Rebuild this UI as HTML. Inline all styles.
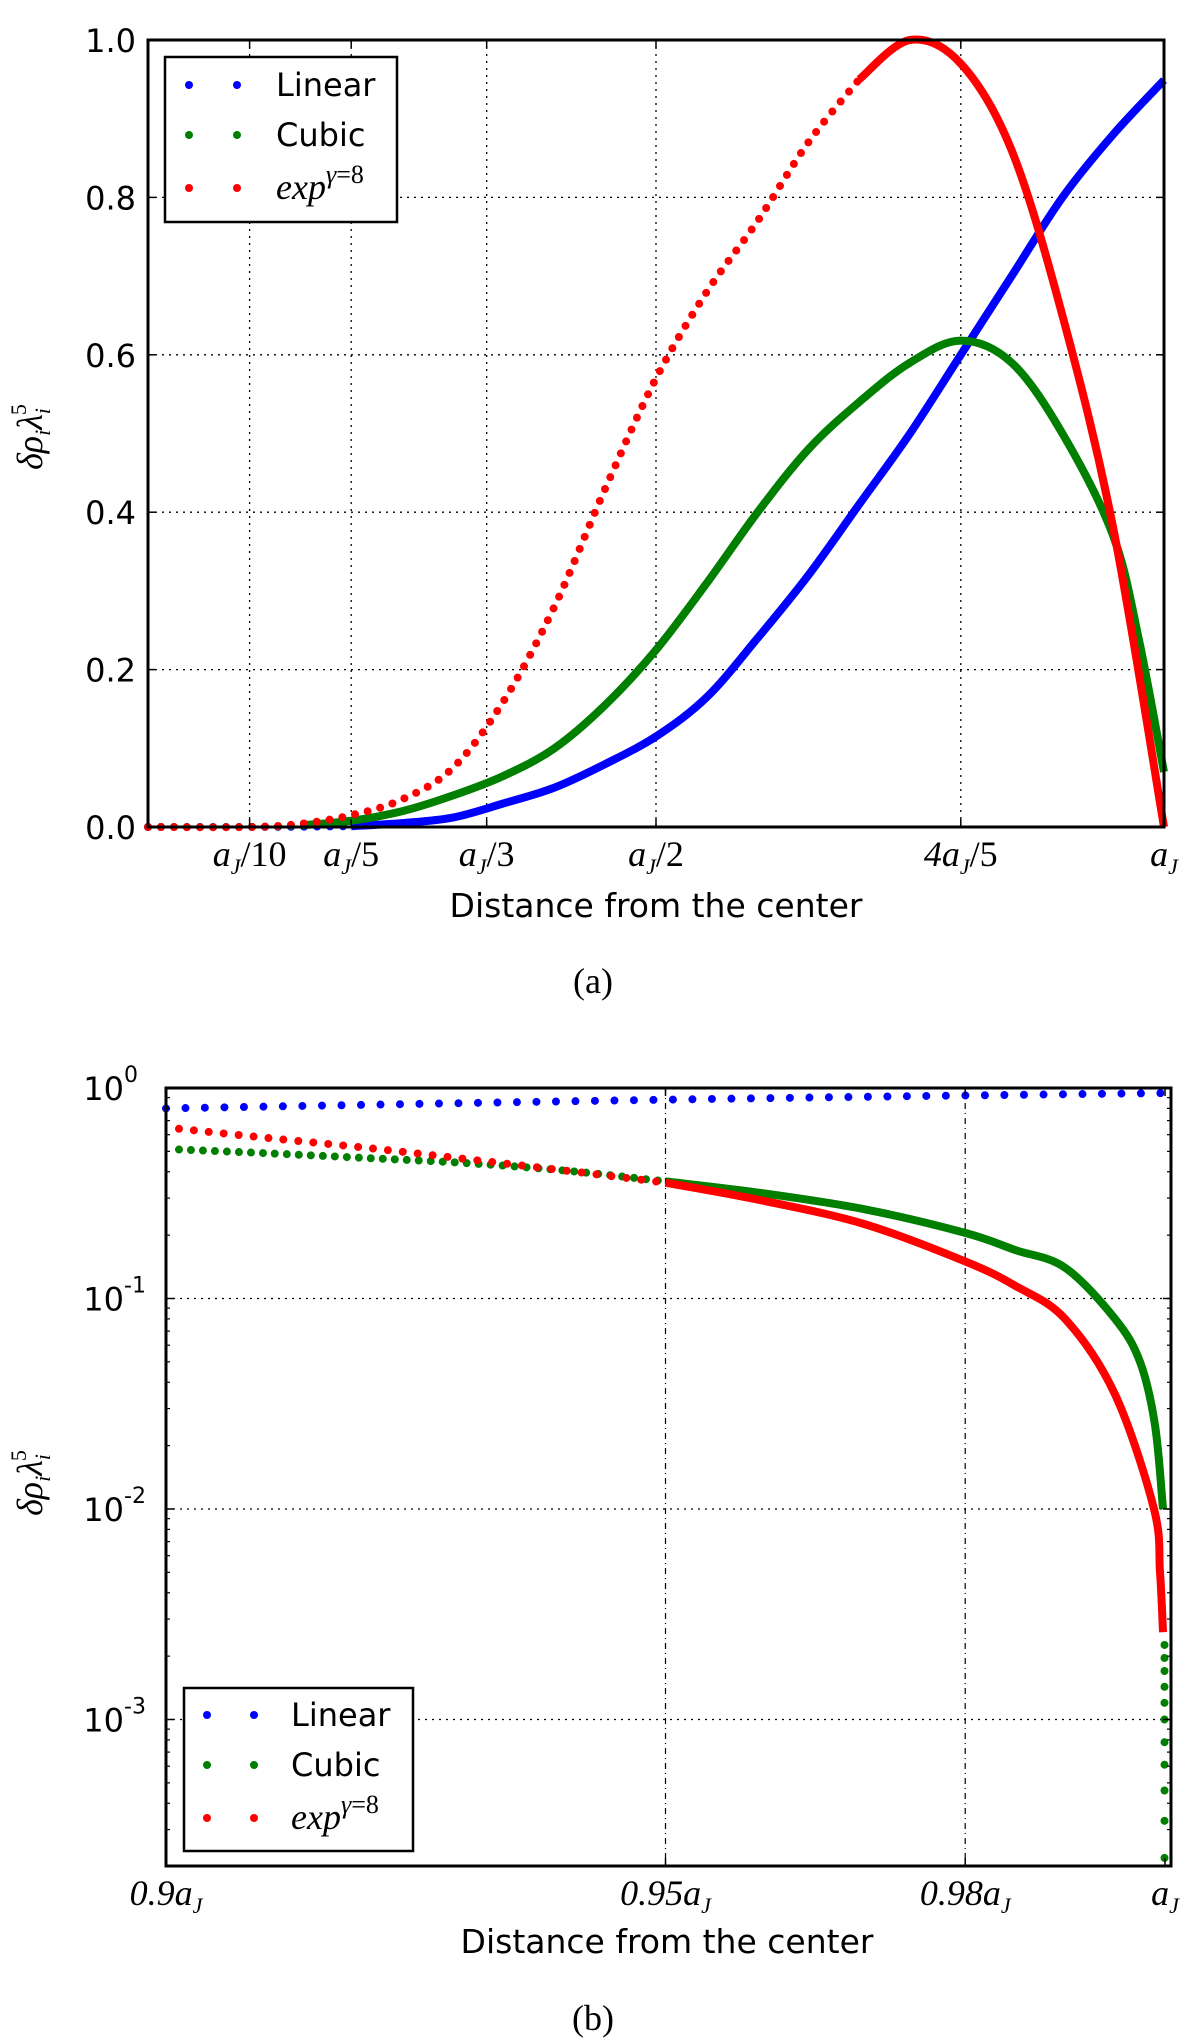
<!DOCTYPE html>
<html><head><meta charset="utf-8"><style>
html,body{margin:0;padding:0;background:#fff;}
svg{display:block;}
.tk{font-family:"DejaVu Sans","Liberation Sans",sans-serif;font-size:32px;fill:#000;}
.mt{font-family:"Liberation Serif",serif;font-style:italic;fill:#000;}
.ttl{font-family:"DejaVu Sans","Liberation Sans",sans-serif;font-size:33px;fill:#000;}
.cap{font-family:"Liberation Serif",serif;font-size:36px;fill:#000;}
</style></head><body>
<svg id="fig" width="1200" height="2040" viewBox="0 0 1200 2040" xmlns="http://www.w3.org/2000/svg">
<g id="top"></g>
<g id="bot"></g>
</svg>
<script>
// ---- Chart (a) data ----
const topLinearX = [0,0.1,0.2,0.25,0.3,0.35,0.4,0.45,0.5,0.55,0.6,0.65,0.7,0.75,0.8,0.85,0.9,0.95,1.0];
const topLinearY = [0,0,0.001,0.005,0.012,0.03,0.05,0.08,0.115,0.165,0.24,0.32,0.41,0.5,0.6,0.7,0.8,0.88,0.949];
const topCubicX = [0,0.1,0.15,0.2,0.25,0.3,0.35,0.4,0.45,0.5,0.55,0.6,0.65,0.7,0.75,0.8,0.85,0.9,0.95,0.975,1.0];
const topCubicY = [0,0,0.002,0.008,0.02,0.04,0.065,0.1,0.155,0.225,0.31,0.4,0.48,0.54,0.59,0.618,0.59,0.5,0.37,0.24,0.07];
const topExpX = [0,0.1,0.15,0.2,0.25,0.3,0.35,0.4,0.45,0.5,0.55,0.6,0.65,0.7,0.75,0.8,0.85,0.9,0.95,1.0];
const topExpY = [0,0,0.004,0.015,0.035,0.075,0.16,0.28,0.43,0.57,0.68,0.77,0.87,0.95,1.0,0.97,0.86,0.65,0.38,0.0];
const topXTicks = [0.1,0.2,1/3,0.5,0.8,1.0];
const topXTickLabels = [["a","/10"],["a","/5"],["a","/3"],["a","/2"],["4a","/5"],["a",""]];
const topYTicks = [0,0.2,0.4,0.6,0.8,1.0];
const topYTickLabels = ["0.0","0.2","0.4","0.6","0.8","1.0"];

// ---- Chart (b) data ----
const botLinearX = [0.9,0.925,0.95,0.975,1.0];
const botLinearY = [0.80,0.84,0.88,0.915,0.946];
const botCubicX = [0.9013,0.91,0.92,0.93,0.94,0.95,0.96,0.97,0.98,0.985,0.99,0.995,0.9975,0.999,0.9998];
const botCubicY = [0.51,0.49,0.465,0.44,0.405,0.36,0.315,0.265,0.205,0.17,0.14,0.08,0.05,0.025,0.01];
const botCubicTailY = [0.00226,0.00196,0.0017,0.00143,0.0012,0.001,0.00078,0.00061,0.00046,0.00033,0.00022];
const botExpX = [0.9013,0.91,0.92,0.93,0.94,0.95,0.96,0.97,0.98,0.985,0.99,0.995,0.9989,0.9995,0.9998];
const botExpY = [0.64,0.58,0.52,0.46,0.405,0.355,0.29,0.225,0.15,0.115,0.08,0.035,0.01,0.005,0.0026];
const botXTicks = [0.9,0.95,0.98,1.0];
const botXTickLabels = [["0.9a"],["0.95a"],["0.98a"],["a"]];
const botYTickExps = [0,-1,-2,-3];

const NS="http://www.w3.org/2000/svg";
function mk(parent,tag,attrs){const e=document.createElementNS(NS,tag);for(const k in attrs)e.setAttribute(k,attrs[k]);parent.appendChild(e);return e;}
const BLUE="#0000ff",GREEN="#007f00",RED="#ff0000";

function pathD(xs,ys,sx,sy,from,to){
  const P=[];for(let i=from;i<=to;i++)P.push([sx(xs[i]),sy(ys[i])]);
  let d="M"+P[0][0].toFixed(2)+","+P[0][1].toFixed(2);
  for(let i=0;i<P.length-1;i++){
    const p0=P[Math.max(0,i-1)],p1=P[i],p2=P[i+1],p3=P[Math.min(P.length-1,i+2)];
    const c1=[p1[0]+(p2[0]-p0[0])/6,p1[1]+(p2[1]-p0[1])/6];
    const c2=[p2[0]-(p3[0]-p1[0])/6,p2[1]-(p3[1]-p1[1])/6];
    d+="C"+c1[0].toFixed(2)+","+c1[1].toFixed(2)+" "+c2[0].toFixed(2)+","+c2[1].toFixed(2)+" "+p2[0].toFixed(2)+","+p2[1].toFixed(2);
  }
  return d;
}
function ylabel(g,x,y){
  const yt=mk(g,'text',{x:0,y:0,'text-anchor':'middle','class':'mt','font-size':36,transform:'translate('+x+','+y+') rotate(-90)'});
  
  yt.innerHTML='δρ<tspan dy="8" font-size="22">i</tspan><tspan dy="-8">λ</tspan><tspan dy="8" font-size="22">i</tspan><tspan dx="-7" dy="-24" font-size="22" font-style="normal">5</tspan>';
}

// ===== Chart A =====
(function(){
const g=document.getElementById('top');
const L=148,R=1164,T=40,B=827;
const sx=v=>L+(v-0)/(1-0)*(R-L);
const sy=v=>B-(v-0)/(1-0)*(B-T);
topXTicks.forEach((t,i)=>{
  if(t<1){const ln=mk(g,'line',{x1:sx(t),x2:sx(t),y1:T,y2:B,stroke:'#000','stroke-width':1.3,'stroke-dasharray':'2,5'});
  }
});
topYTicks.forEach(t=>{
  if(t>0&&t<1){const ln=mk(g,'line',{x1:L,x2:R,y1:sy(t),y2:sy(t),stroke:'#000','stroke-width':1.3,'stroke-dasharray':'2,5'});
  }
});
function series(xs,ys,col,split,name){
  const n=xs.length-1;let k=0;while(k<n&&xs[k]<split)k++;
  if(k>0){const p=mk(g,'path',{d:pathD(xs,ys,sx,sy,0,k),fill:'none',stroke:col,'stroke-width':8,'stroke-linecap':'round','stroke-dasharray':'0,13'});
    }
  const p2=mk(g,'path',{d:pathD(xs,ys,sx,sy,k,n),fill:'none',stroke:col,'stroke-width':8,'stroke-linejoin':'round'});
  
}
series(topLinearX,topLinearY,BLUE,0.2,'linear-series');
series(topCubicX,topCubicY,GREEN,0.15,'cubic-series');
series(topExpX,topExpY,RED,0.68,'exp-series');
const fr=mk(g,'rect',{x:L,y:T,width:R-L,height:B-T,fill:'none',stroke:'#000','stroke-width':3});

topXTicks.forEach((t,i)=>{
  mk(g,'line',{x1:sx(t),x2:sx(t),y1:B,y2:B-8,stroke:'#000','stroke-width':1.5});
  mk(g,'line',{x1:sx(t),x2:sx(t),y1:T,y2:T+8,stroke:'#000','stroke-width':1.5});
  const tx=mk(g,'text',{x:sx(t),y:866,'text-anchor':'middle','class':'mt','font-size':36});
  
  const lb=topXTickLabels[i];
  const a=mk(tx,'tspan',{});a.textContent=lb[0];
  const j=mk(tx,'tspan',{dy:8,'font-size':22});j.textContent="J";
  const r=mk(tx,'tspan',{dy:-8,'font-style':'normal'});r.textContent=lb[1];
});
topYTicks.forEach((t,i)=>{
  mk(g,'line',{x1:L,x2:L+8,y1:sy(t),y2:sy(t),stroke:'#000','stroke-width':1.5});
  mk(g,'line',{x1:R,x2:R-8,y1:sy(t),y2:sy(t),stroke:'#000','stroke-width':1.5});
  const tx=mk(g,'text',{x:136,y:sy(t)+12,'text-anchor':'end','class':'tk'});
  
  tx.textContent=topYTickLabels[i];
});
const xt=mk(g,'text',{x:656,y:917,'text-anchor':'middle','class':'ttl'});

xt.textContent="Distance from the center";
ylabel(g,42,437);
const cap=mk(g,'text',{x:593,y:993,'text-anchor':'middle','class':'cap'});

cap.textContent="(a)";
const lg=mk(g,'g',{});
mk(lg,'rect',{x:165,y:57,width:232,height:165,fill:'#fff',stroke:'#000','stroke-width':2.5});
const ents=[["Linear",BLUE,85],["Cubic",GREEN,135],["exp",RED,188]];
ents.forEach(e=>{
  const eg=mk(lg,'g',{});
  mk(eg,'circle',{cx:189,cy:e[2],r:4,fill:e[1]});mk(eg,'circle',{cx:237,cy:e[2],r:4,fill:e[1]});
  if(e[0]==="exp"){const t=mk(eg,'text',{x:276,y:e[2]+11,'class':'mt','font-size':36});
    t.innerHTML='exp<tspan dy="-16" font-size="26">γ</tspan><tspan font-style="normal" font-size="26">=8</tspan>';}
  else{const t=mk(eg,'text',{x:276,y:e[2]+11,'class':'tk'});t.textContent=e[0];}
});
})();

// ===== Chart B =====
(function(){
const g=document.getElementById('bot');
const L=166,R=1171,T=1088,B=1866;
const X0=0.9,X1=1.0006;const DEC=210.5;
const sx=v=>L+(v-X0)/(X1-X0)*(R-L);
const sy=v=>T-Math.log10(v)*DEC;
botXTicks.forEach(t=>{
  if(t>X0&&t<1){const ln=mk(g,'line',{x1:sx(t),x2:sx(t),y1:T,y2:B,stroke:'#000','stroke-width':1.2,'stroke-dasharray':'6,4,1,4'});
  }
});
botYTickExps.forEach(e=>{
  if(e<0){const ln=mk(g,'line',{x1:L,x2:R,y1:sy(Math.pow(10,e)),y2:sy(Math.pow(10,e)),stroke:'#000','stroke-width':1.3,'stroke-dasharray':'2,5'});
  }
});
function series(xs,ys,col,split,gap,name){
  const n=xs.length-1;let k=0;while(k<n&&xs[k]<split)k++;
  const p=mk(g,'path',{d:pathD(xs,ys,sx,sy,0,k),fill:'none',stroke:col,'stroke-width':8,'stroke-linecap':'round','stroke-dasharray':'0,'+gap});
  
  if(k<n){const p2=mk(g,'path',{d:pathD(xs,ys,sx,sy,k,n),fill:'none',stroke:col,'stroke-width':8,'stroke-linejoin':'round'});
  }
}
series(botLinearX,botLinearY,BLUE,2,19.5,'linear-series');
series(botCubicX,botCubicY,GREEN,0.945,12,'cubic-series');
series(botExpX,botExpY,RED,0.95,15,'exp-series');
botCubicTailY.forEach(v=>{
  const c=mk(g,'circle',{cx:sx(0.99995),cy:sy(v),r:4,fill:GREEN});
  
});
const fr=mk(g,'rect',{x:L,y:T,width:R-L,height:B-T,fill:'none',stroke:'#000','stroke-width':3});

for(let e=-4;e<=0;e++){for(let m=2;m<=9;m++){const v=m*Math.pow(10,e);const y=sy(v);if(y<T||y>B)continue;
  mk(g,'line',{x1:L,x2:L+4,y1:y,y2:y,stroke:'#000','stroke-width':1.2});mk(g,'line',{x1:R,x2:R-4,y1:y,y2:y,stroke:'#000','stroke-width':1.2});}}
botYTickExps.forEach(e=>{
  const y=sy(Math.pow(10,e));
  mk(g,'line',{x1:L,x2:L+8,y1:y,y2:y,stroke:'#000','stroke-width':1.5});mk(g,'line',{x1:R,x2:R-8,y1:y,y2:y,stroke:'#000','stroke-width':1.5});
  const tx=mk(g,'text',{x:124,y:y+12,'text-anchor':'end','class':'tk'});
  
  tx.innerHTML='10<tspan x="124" dx="0" dy="-18" text-anchor="start" font-size="22">'+e+'</tspan>';
});
botXTicks.forEach((t,i)=>{
  mk(g,'line',{x1:sx(t),x2:sx(t),y1:B,y2:B-8,stroke:'#000','stroke-width':1.5});
  mk(g,'line',{x1:sx(t),x2:sx(t),y1:T,y2:T+8,stroke:'#000','stroke-width':1.5});
  const tx=mk(g,'text',{x:sx(t),y:1905,'text-anchor':'middle','class':'mt','font-size':36});
  
  const a=mk(tx,'tspan',{});a.textContent=botXTickLabels[i][0];
  const j=mk(tx,'tspan',{dy:8,'font-size':22});j.textContent="J";
});
const xt=mk(g,'text',{x:667,y:1953,'text-anchor':'middle','class':'ttl'});

xt.textContent="Distance from the center";
ylabel(g,42,1483);
const cap=mk(g,'text',{x:593,y:2030,'text-anchor':'middle','class':'cap'});

cap.textContent="(b)";
const lg=mk(g,'g',{});
mk(lg,'rect',{x:184,y:1688,width:229,height:163,fill:'#fff',stroke:'#000','stroke-width':2.5});
const ents=[["Linear",BLUE,1715],["Cubic",GREEN,1765],["exp",RED,1818]];
ents.forEach(e=>{
  const eg=mk(lg,'g',{});
  mk(eg,'circle',{cx:207,cy:e[2],r:4,fill:e[1]});mk(eg,'circle',{cx:254,cy:e[2],r:4,fill:e[1]});
  if(e[0]==="exp"){const t=mk(eg,'text',{x:291,y:e[2]+11,'class':'mt','font-size':36});
    t.innerHTML='exp<tspan dy="-16" font-size="26">γ</tspan><tspan font-style="normal" font-size="26">=8</tspan>';}
  else{const t=mk(eg,'text',{x:291,y:e[2]+11,'class':'tk'});t.textContent=e[0];}
});
})();
</script>
</body></html>
